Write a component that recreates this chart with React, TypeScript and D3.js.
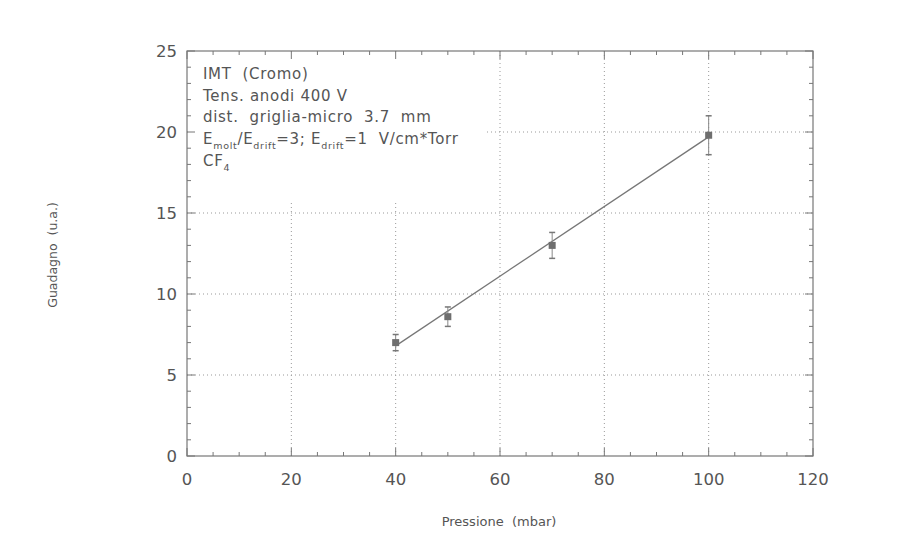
import React from "react";
import * as d3 from "d3";

const pressures = [40, 50, 70, 100];
const gains = [7.0, 8.6, 13.0, 19.8];
const gainErrors = [0.5, 0.6, 0.8, 1.2];
const fitX = [40, 100];
const fitY = [6.8, 19.7];
const xTicks = [0, 20, 40, 60, 80, 100, 120];
const yTicks = [0, 5, 10, 15, 20, 25];
const notes = ["IMT  (Cromo)", "Tens. anodi 400 V", "dist.  griglia-micro  3.7  mm"];

const W = 906, H = 539;
const L = 187, R = 813, T = 51, B = 456;
const FONT = "'DejaVu Sans', sans-serif";
const INK = "#555";

export default function App() {
  const x = d3.scaleLinear().domain([0, 120]).range([L, R]);
  const y = d3.scaleLinear().domain([0, 25]).range([B, T]);
  const xMinor = d3.range(0, 121, 5);
  const yMinor = d3.range(0, 26, 1);
  const line = d3.line<number>().x((_, i) => x(fitX[i])).y((v) => y(v));
  const gridColor = "#999";

  return (
    <svg width={W} height={H} style={{ position: "absolute", left: 0, top: 0, background: "#fff" }}>
      <rect x={0} y={0} width={W} height={H} fill="#fff" />
      {/* grid */}
      {xTicks.slice(1, -1).map((t) => (
        <line key={"gx" + t} x1={x(t)} x2={x(t)} y1={T} y2={B} stroke={gridColor} strokeWidth={1} strokeDasharray="1,3" />
      ))}
      {yTicks.slice(1, -1).map((t) => (
        <line key={"gy" + t} x1={L} x2={R} y1={y(t)} y2={y(t)} stroke={gridColor} strokeWidth={1} strokeDasharray="1,3" />
      ))}
      {/* text box background */}
      <rect x={L + 1} y={T + 1} width={298} height={150} fill="#fff" />
      {/* frame */}
      <rect x={L} y={T} width={R - L} height={B - T} fill="none" stroke="#777" strokeWidth={1.2} />
      {/* ticks */}
      {xMinor.map((t) => {
        const len = t % 20 === 0 ? 8 : 4;
        return (
          <g key={"xt" + t} stroke="#777" strokeWidth={1}>
            <line x1={x(t)} x2={x(t)} y1={B} y2={B - len} />
            <line x1={x(t)} x2={x(t)} y1={T} y2={T + len} />
          </g>
        );
      })}
      {yMinor.map((t) => {
        const len = t % 5 === 0 ? 8 : 4;
        return (
          <g key={"yt" + t} stroke="#777" strokeWidth={1}>
            <line x1={L} x2={L + len} y1={y(t)} y2={y(t)} />
            <line x1={R} x2={R - len} y1={y(t)} y2={y(t)} />
          </g>
        );
      })}
      {/* tick labels */}
      {xTicks.map((t) => (
        <text key={"xl" + t} x={x(t)} y={485} textAnchor="middle" fontFamily={FONT} fontSize={16.5} fill={INK}>
          {t}
        </text>
      ))}
      {yTicks.map((t) => (
        <text key={"yl" + t} x={177} y={y(t) + 6} textAnchor="end" fontFamily={FONT} fontSize={16.5} fill={INK}>
          {t}
        </text>
      ))}
      {/* axis titles */}
      <text x={499} y={526} textAnchor="middle" fontFamily={FONT} fontSize={13} fill={INK} style={{ whiteSpace: "pre" }}>
        Pressione  (mbar)
      </text>
      <text transform={`translate(57,255) rotate(-90)`} textAnchor="middle" fontFamily={FONT} fontSize={12.5} fill={INK} style={{ whiteSpace: "pre" }}>
        Guadagno  (u.a.)
      </text>
      {/* annotation */}
      <g fontFamily={FONT} fontSize={15} fill={INK} letterSpacing={0.7}>
        {notes.map((n, i) => (
          <text key={"n" + i} x={203} y={79 + i * 21.5} style={{ whiteSpace: "pre" }}>
            {n}
          </text>
        ))}
        <text x={203} y={143.5} style={{ whiteSpace: "pre" }}>
          E<tspan fontSize={9.5} dy={5}>molt</tspan>
          <tspan dy={-5}>/E</tspan>
          <tspan fontSize={9.5} dy={5}>drift</tspan>
          <tspan dy={-5}>=3; E</tspan>
          <tspan fontSize={9.5} dy={5}>drift</tspan>
          <tspan dy={-5}>=1  V/cm*Torr</tspan>
        </text>
        <text x={203} y={166}>
          CF<tspan fontSize={9.5} dy={5}>4</tspan>
        </text>
      </g>
      {/* fit line */}
      <path d={line(fitY) || ""} fill="none" stroke="#777" strokeWidth={1.3} />
      {/* error bars and points */}
      {pressures.map((p, i) => {
        const cx = x(p);
        const y1 = y(gains[i] + gainErrors[i]);
        const y0 = y(gains[i] - gainErrors[i]);
        return (
          <g key={"pt" + i}>
            <line x1={cx} x2={cx} y1={y1} y2={y0} stroke="#888" strokeWidth={1} />
            <line x1={cx - 3} x2={cx + 3} y1={y1} y2={y1} stroke="#777" strokeWidth={1.5} />
            <line x1={cx - 3} x2={cx + 3} y1={y0} y2={y0} stroke="#777" strokeWidth={1.5} />
            <rect x={cx - 3.5} y={y(gains[i]) - 3.5} width={7} height={7} fill="#6e6e6e" />
          </g>
        );
      })}
    </svg>
  );
}
